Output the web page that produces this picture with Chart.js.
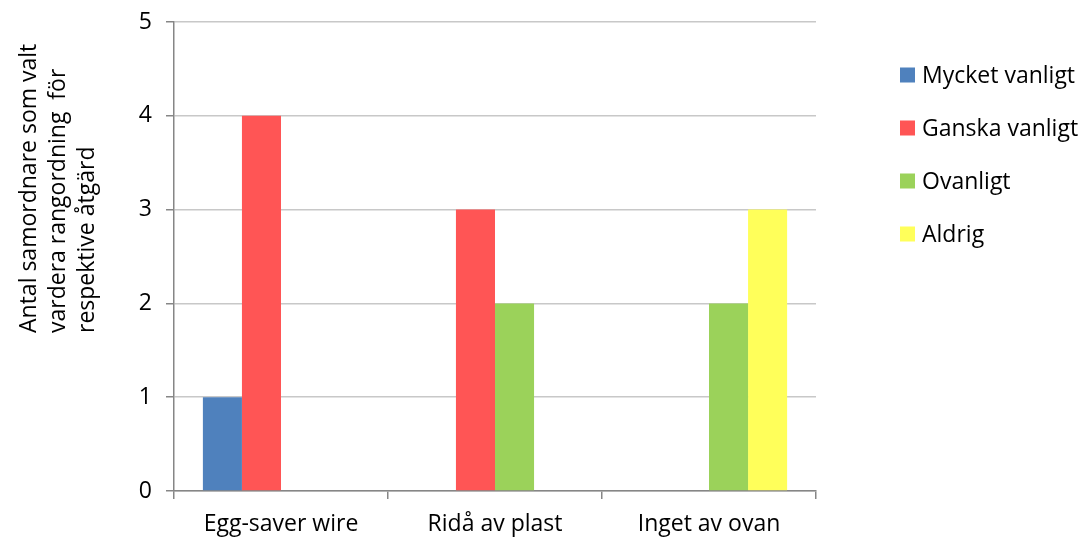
<!DOCTYPE html>
<html>
<head>
<meta charset="utf-8">
<script src="https://cdn.jsdelivr.net/npm/chart.js@4/dist/chart.umd.min.js"></script>
<style>
  html, body { margin: 0; padding: 0; background: #fff; }
  #wrap { width: 1083px; height: 538px; }
</style>
</head>
<body>
<div id="wrap"><canvas id="c" width="1083" height="538"></canvas></div>
<script>
const categories = ['Egg-saver wire', 'Ridå av plast', 'Inget av ovan'];
const mycketVanligt = [1, 0, 0];
const ganskaVanligt = [4, 3, 0];
const ovanligt = [0, 2, 2];
const aldrig = [0, 0, 3];
const seriesNames = ['Mycket vanligt', 'Ganska vanligt', 'Ovanligt', 'Aldrig'];
const yTicks = [0, 1, 2, 3, 4, 5];
const yTitleLines = ['Antal samordnare som valt', 'vardera rangordning  för', 'respektive åtgärd'];

const FONT = '"Open Sans", "Liberation Sans", sans-serif';
const FS = 23;
const colors = ['#4F81BD', '#FF5555', '#9BD25A', '#FFFF5A'];

// Legend on the right, one row per series
const sideLegend = {
  id: 'sideLegend',
  afterDraw(chart) {
    const ctx = chart.ctx;
    ctx.save();
    ctx.font = FS + 'px ' + FONT;
    ctx.textBaseline = 'middle';
    ctx.textAlign = 'left';
    chart.data.datasets.forEach((ds, i) => {
      const cy = 75 + i * 53;
      ctx.fillStyle = ds.backgroundColor;
      ctx.fillRect(900, cy - 7.5, 15, 15);
      ctx.fillStyle = '#000';
      ctx.fillText(ds.label, 922, cy + 1);
    });
    ctx.restore();
  }
};

// Rotated three-line title for the value axis, lines start-aligned
const yTitle = {
  id: 'yTitle',
  afterDraw(chart) {
    const ctx = chart.ctx;
    ctx.save();
    ctx.font = FS + 'px ' + FONT;
    ctx.fillStyle = '#000';
    ctx.textBaseline = 'middle';
    ctx.textAlign = 'left';
    const xs = [29, 58, 87];
    yTitleLines.forEach((line, i) => {
      ctx.save();
      ctx.translate(xs[i], 333);
      ctx.rotate(-Math.PI / 2);
      ctx.fillText(line, 0, 0);
      ctx.restore();
    });
    ctx.restore();
  }
};

const data = {
  labels: categories,
  datasets: [mycketVanligt, ganskaVanligt, ovanligt, aldrig].map((vals, i) => ({
    label: seriesNames[i],
    data: vals,
    backgroundColor: colors[i],
    borderWidth: 0,
    categoryPercentage: 0.73,
    barPercentage: 1.0
  }))
};

new Chart(document.getElementById('c'), {
  type: 'bar',
  data,
  plugins: [sideLegend, yTitle],
  options: {
    responsive: false,
    animation: false,
    devicePixelRatio: 1,
    layout: { padding: { left: 0, right: 267, top: 22, bottom: 0 } },
    plugins: {
      legend: { display: false },
      tooltip: { enabled: false }
    },
    scales: {
      x: {
        afterFit(s) { s.height = 47; },
        grid: {
          offset: true,
          drawOnChartArea: false,
          color: '#868686',
          tickLength: 8,
          lineWidth: 1.5
        },
        border: { color: '#868686', width: 1.5 },
        ticks: { color: '#000', font: { family: FONT, size: FS }, padding: 12 }
      },
      y: {
        min: 0,
        max: 5,
        afterFit(s) { s.width = 174; s.paddingTop = 0; s.paddingBottom = 0; },
        afterBuildTicks(s) { s.ticks = yTicks.map(v => ({ value: v })); },
        grid: {
          color: '#C8C8C8',
          tickColor: '#868686',
          tickLength: 8,
          lineWidth: 1.5
        },
        border: { color: '#868686', width: 1.5 },
        ticks: { color: '#000', font: { family: FONT, size: FS }, padding: 14 }
      }
    }
  }
});
</script>
</body>
</html>
